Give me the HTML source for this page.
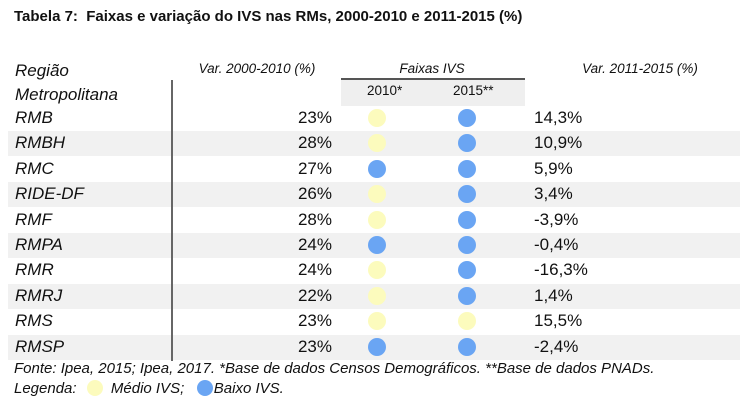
<!DOCTYPE html>
<html><head><meta charset="utf-8"><style>
body{margin:0;width:740px;height:405px;background:#fff;font-family:"Liberation Sans",sans-serif;color:#111;position:relative;overflow:hidden}
.a{position:absolute;white-space:nowrap}
.t{left:14px;top:8px;font-size:15px;font-weight:bold}
.h{font-size:13.5px;font-style:italic;transform:translateX(-50%)}
.row{position:absolute;left:8px;width:732px;height:25px}
.sh{background:#f1f1f1}
.rn{left:15px;font-size:17px;font-style:italic}
.p{font-size:17px;text-align:right;width:60px;left:272px}
.v{font-size:17px;left:534px}
.c{position:absolute;width:18px;height:18px;border-radius:50%}
.y{background:#fcfbbd}
.b{background:#6aa5f3}
.it{font-size:15px;font-style:italic}
</style></head><body>
<div class="a t">Tabela 7:&nbsp; Faixas e variação do IVS nas RMs, 2000-2010 e 2011-2015 (%)</div>
<div class="a rn" style="top:61px">Região</div>
<div class="a rn" style="top:85px">Metropolitana</div>
<div class="a h" style="left:257px;top:61px">Var. 2000-2010 (%)</div>
<div class="a h" style="left:432px;top:61px">Faixas IVS</div>
<div class="a h" style="left:640px;top:61px">Var. 2011-2015 (%)</div>
<div class="a" style="left:341px;top:78px;width:184px;height:2px;background:#555"></div>
<div class="a" style="left:341px;top:80px;width:184px;height:26px;background:#efefef"></div>
<div class="a" style="left:367px;top:83px;font-size:13.5px">2010*</div>
<div class="a" style="left:453px;top:83px;font-size:13.5px">2015**</div>
<div id="rows"></div>
<div class="a" style="left:171px;top:80px;width:2px;height:281px;background:#666"></div>
<div class="a it" style="left:14px;top:360px">Fonte: Ipea, 2015; Ipea, 2017. *Base de dados Censos Demográficos. **Base de dados PNADs.</div>
<div class="a it" style="left:14px;top:380px">Legenda: <span style="display:inline-block;width:16px;height:16px;border-radius:50%;background:#fcfbbd;vertical-align:-3px;margin:0 4px 0 6px"></span> Médio IVS;&nbsp;&nbsp; <span style="display:inline-block;width:16px;height:16px;border-radius:50%;background:#6aa5f3;vertical-align:-3px;margin-right:1px"></span>Baixo IVS.</div>
<script>
var d=[["RMB","23%","y","b","14,3%"],["RMBH","28%","y","b","10,9%"],["RMC","27%","b","b","5,9%"],["RIDE-DF","26%","y","b","3,4%"],["RMF","28%","y","b","-3,9%"],["RMPA","24%","b","b","-0,4%"],["RMR","24%","y","b","-16,3%"],["RMRJ","22%","y","b","1,4%"],["RMS","23%","y","y","15,5%"],["RMSP","23%","b","b","-2,4%"]];
var h="";
d.forEach(function(r,i){var top=106+i*25.4;
h+='<div class="row'+(i%2?' sh':'')+'" style="top:'+top+'px"></div>';
var ty=top+2;
h+='<div class="a rn" style="top:'+ty+'px">'+r[0]+'</div>';
h+='<div class="a p" style="top:'+ty+'px">'+r[1]+'</div>';
h+='<div class="c '+r[2]+'" style="left:368px;top:'+(top+3)+'px"></div>';
h+='<div class="c '+r[3]+'" style="left:458px;top:'+(top+3)+'px"></div>';
h+='<div class="a v" style="top:'+ty+'px">'+r[4]+'</div>';});
document.getElementById("rows").innerHTML=h;
</script>
</body></html>
